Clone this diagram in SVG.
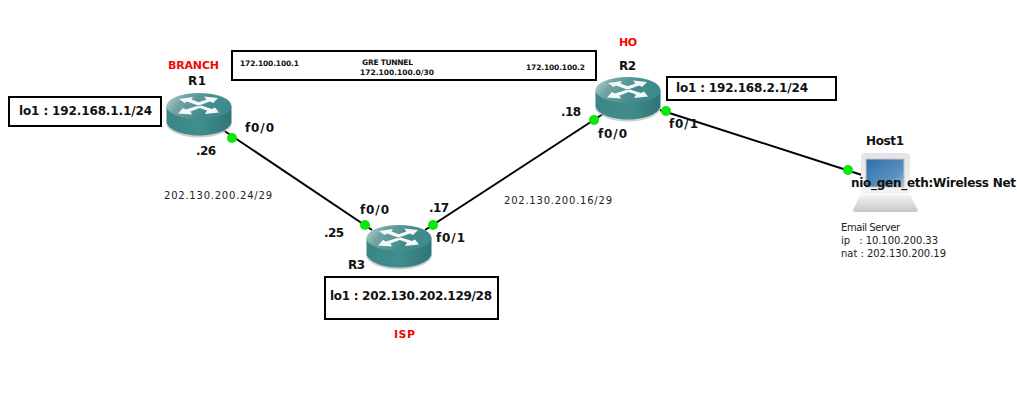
<svg xmlns="http://www.w3.org/2000/svg" width="1017" height="407" viewBox="0 0 1017 407">
<style>
text{font-family:"DejaVu Sans",Verdana,sans-serif;fill:#111}
.b{font-weight:700;font-size:12px}
.n{font-size:10px;fill:#222}
.s{font-weight:700;font-size:7.500px}
.r{font-weight:700;font-size:11px;fill:#f00900}
.box{fill:#fff;stroke:#000;stroke-width:2}
.link{stroke:#000;stroke-width:2;fill:none}
.dot{fill:#0be60b}
.ar{fill:#f4f8f8}
</style>
<defs>
<linearGradient id="top" x1="0" y1="0" x2="1" y2="0.3"><stop offset="0" stop-color="#c3d6d6"/><stop offset="0.3" stop-color="#6fa3a3"/><stop offset="0.7" stop-color="#458d8d"/><stop offset="1" stop-color="#3f8a8a"/></linearGradient>
<linearGradient id="side" x1="0" y1="0" x2="1" y2="0"><stop offset="0" stop-color="#3a8585"/><stop offset="0.5" stop-color="#418d8d"/><stop offset="1" stop-color="#2f7676"/></linearGradient>
<linearGradient id="scr" x1="0" y1="0" x2="1" y2="1"><stop offset="0" stop-color="#2f6fa8"/><stop offset="0.7" stop-color="#5c92c2"/><stop offset="1" stop-color="#a9c6dd"/></linearGradient>
<linearGradient id="base" x1="0" y1="0" x2="0" y2="1"><stop offset="0" stop-color="#f2f2f2"/><stop offset="1" stop-color="#c8c8c8"/></linearGradient>
<linearGradient id="bez" x1="0" y1="0" x2="0" y2="1"><stop offset="0" stop-color="#e4e4e4"/><stop offset="1" stop-color="#f4f4f4"/></linearGradient>
<symbol id="router" width="68" height="46" viewBox="0 0 68 46">
<ellipse cx="33" cy="30" rx="33" ry="14.500" fill="#bbb" opacity="0.7"/>
<path d="M0.500 13V28C0.500 36 15 42.500 33 42.500S65.500 36 65.500 28V13Z" fill="url(#side)"/>
<ellipse cx="33" cy="13" rx="32.500" ry="13" fill="url(#top)"/>
<path class="ar" d="M13 6L27 4L25.500 6.500L36 10.500L32 12.500L21 8.500L18.500 10Z"/>
<path class="ar" d="M52 5L38 3.500L40.500 6.500L29 10.500L33 12.500L44 8.500L47 10Z"/>
<path class="ar" d="M12 20.500L26 21.500L24.500 18.500L35 14.500L31 13L20 16.500L17 15Z"/>
<path class="ar" d="M53 19.500L39 21L41 17.500L31 14L35 12.500L46 16L49 14.500Z"/>
</symbol>
</defs>
<g id="connectors">
<line class="link" x1="223" y1="130" x2="372" y2="230"/>
<line class="link" x1="425" y1="230" x2="603" y2="114"/>
<line class="link" x1="660" y1="110" x2="862" y2="175"/>
</g>
<g id="R1"><use href="#router" x="166" y="93"/><text class="b" x="188" y="85" textLength="18">R1</text><text class="r" x="168" y="69" textLength="51">BRANCH</text></g>
<g id="R2"><use href="#router" x="595" y="77"/><text class="b" x="619" y="70" textLength="17">R2</text><text class="r" x="619" y="46" textLength="18">HO</text></g>
<g id="R3"><use href="#router" x="366" y="225"/><text class="b" x="348" y="269" textLength="17">R3</text><text class="r" x="394" y="338" textLength="21">ISP</text></g>
<g id="Host1">
<rect x="861" y="153" width="49" height="41" rx="4" fill="url(#bez)"/>
<rect x="866" y="159" width="38" height="28" fill="url(#scr)" stroke="#c4c4c4"/>
<path d="M860 195H910L918 210Q918 212 915 212H856Q853 212 853 210Z" fill="url(#base)"/>
<text class="b" x="866" y="145" textLength="38">Host1</text>
<text class="b" x="851" y="187" textLength="165">nio_gen_eth:Wireless Net</text>
<text class="n" x="841" y="231" textLength="59">Email Server</text>
<text class="n" x="841" y="244" xml:space="preserve" textLength="97">ip   : 10.100.200.33</text>
<text class="n" x="841" y="257" textLength="105">nat : 202.130.200.19</text>
</g>
<g id="box-r1"><rect class="box" x="9" y="97" width="152" height="29"/><text class="b" x="19" y="115" textLength="133">lo1 : 192.168.1.1/24</text></g>
<g id="box-r2"><rect class="box" x="667" y="77" width="169" height="23"/><text class="b" x="676" y="92" textLength="132">lo1 : 192.168.2.1/24</text></g>
<g id="box-r3"><rect class="box" x="325" y="277" width="173" height="42"/><text class="b" x="330" y="300" textLength="162">lo1 : 202.130.202.129/28</text></g>
<g id="tunnel"><rect class="box" x="232" y="51" width="364" height="29"/>
<text class="s" x="240" y="66" textLength="59">172.100.100.1</text>
<text class="s" x="362" y="65" textLength="51">GRE TUNNEL</text>
<text class="s" x="360" y="75" textLength="74">172.100.100.0/30</text>
<text class="s" x="526" y="70" textLength="59">172.100.100.2</text></g>
<g id="labels">
<circle class="dot" cx="232" cy="138" r="5"/>
<circle class="dot" cx="365" cy="225" r="5"/>
<circle class="dot" cx="433" cy="225" r="5"/>
<circle class="dot" cx="594" cy="120" r="5"/>
<circle class="dot" cx="666" cy="111" r="5"/>
<circle class="dot" cx="848" cy="170" r="5"/>
<text class="b" x="245" y="132" textLength="29">f0/0</text>
<text class="b" x="196" y="155" textLength="20">.26</text>
<text class="b" x="360" y="214" textLength="29">f0/0</text>
<text class="b" x="324" y="237" textLength="20">.25</text>
<text class="b" x="429" y="212" textLength="20">.17</text>
<text class="b" x="436" y="242" textLength="29">f0/1</text>
<text class="b" x="561" y="116" textLength="20">.18</text>
<text class="b" x="598" y="138" textLength="29">f0/0</text>
<text class="b" x="669" y="128" textLength="29">f0/1</text>
<text class="n" x="164" y="199" textLength="108">202.130.200.24/29</text>
<text class="n" x="504" y="204" textLength="108">202.130.200.16/29</text>
</g>
</svg>
